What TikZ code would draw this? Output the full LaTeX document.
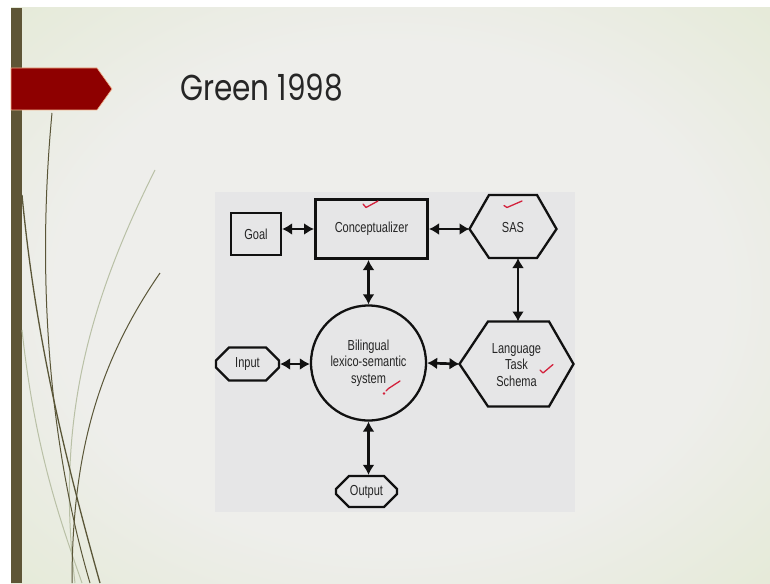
\documentclass[tikz,border=0pt]{standalone}
\usepackage{fontspec}
\newfontfamily\diagfont[FakeStretch=0.76]{Liberation Sans}
\newfontfamily\titlefont{Poppins}
\usetikzlibrary{arrows.meta,shapes.misc}
\definecolor{bgin}{HTML}{EEEEEB}
\definecolor{bgout}{HTML}{DCE6C4}
\definecolor{panel}{HTML}{E6E6E7}
\definecolor{barbrown}{HTML}{5E5536}
\definecolor{banner}{HTML}{8E0000}
\definecolor{bannerrim}{HTML}{F2B38C}
\definecolor{curve}{HTML}{5A5638}
\definecolor{faint}{HTML}{B9C0A6}
\definecolor{tickred}{HTML}{D3213C}
\definecolor{ink}{HTML}{111111}
\definecolor{txtc}{HTML}{252525}
\pgfdeclareradialshading{slidebg}{\pgfpoint{0bp}{0bp}}{color(0bp)=(bgin); color(22bp)=(bgin); color(50bp)=(bgout); color(100bp)=(bgout)}
\begin{document}
\begin{tikzpicture}[x=1pt,y=-1pt,
  txt/.style={font=\diagfont\fontsize{14.5}{16.5}\selectfont, text=txtc, align=center},
  boxnode/.style={txt, draw=ink, line width=2.3pt, fill=panel, inner sep=0pt},
  octnode/.style={txt, chamfered rectangle, chamfered rectangle xsep=6.5pt, chamfered rectangle ysep=6.5pt, draw=ink, line width=2.3pt, fill=panel, inner sep=0pt},
  hexline/.style={draw=ink, line width=2.3pt, line join=miter, fill=panel},
  arr/.style={draw=ink, line width=2.7pt, {Latex[length=10pt,width=12pt]}-{Latex[length=10pt,width=12pt]}},
  tick/.style={draw=tickred, line width=1.3pt, line cap=round, line join=round},
  curvedark/.style={draw=curve, line width=1.3pt},
  curvefaint/.style={draw=faint, line width=1pt}
]
\useasboundingbox (0,0) rectangle (770,583);
% slide background
\fill[white] (0,0) rectangle (770,583);
\shade[shading=slidebg] (11,8) rectangle (770,583);
\fill[barbrown] (11,8) rectangle (22,583);
% decorative curves
\draw[curvefaint] (155,170) .. controls (90,300) and (55,420) .. (75,583);
\draw[curvefaint] (22,330) .. controls (35,450) and (60,520) .. (82,583);
\draw[curvedark] (22,195) .. controls (35,330) and (60,440) .. (100,583);
\draw[curvedark, line width=1pt] (52,113) .. controls (38,260) and (45,430) .. (90,583);
\draw[curvedark, line width=1pt] (160,273) .. controls (100,360) and (72,450) .. (72,583);
% banner
\fill[banner, draw=bannerrim, line width=0.6pt] (11,68) -- (97,68) -- (112,89) -- (97,110) -- (11,110) -- cycle;
% title
\node[anchor=base west, font=\titlefont\fontsize{36}{40}\selectfont, text=black!85, inner sep=0pt] (title) at (180,100) {\scalebox{0.82}[1]{Green 1998}};
% diagram panel
\fill[panel] (215,192) rectangle (575,512);
% nodes
\node[boxnode, minimum width=50pt, minimum height=42pt] (goal) at (256,234) {Goal};
\node[boxnode, line width=3pt, minimum width=112pt, minimum height=59pt] (concept) at (371.5,229) {Conceptualizer};
\coordinate (sasW) at (469.5,229);
\coordinate (sasE) at (556.5,229);
\coordinate (sasS) at (518,258);
\draw[hexline] (sasW) -- (489,195) -- (537,195) -- (sasE) -- (537,258) -- (489,258) -- cycle;
\node[txt] (sas) at (513,228) {SAS};
\coordinate (ltsW) at (459.5,364);
\coordinate (ltsE) at (573.5,364);
\coordinate (ltsN) at (518,321.5);
\draw[hexline] (ltsW) -- (488,321.5) -- (549,321.5) -- (ltsE) -- (549,406.5) -- (488,406.5) -- cycle;
\node[txt] (lts) at (516.5,365) {Language\\Task\\Schema};
\node[boxnode, circle, minimum size=115pt] (bil) at (368.5,363) {Bilingual\\lexico-semantic\\system};
\node[octnode, minimum width=63pt, minimum height=33pt] (input) at (247.5,364) {Input};
\node[octnode, minimum width=61pt, minimum height=31pt] (output) at (366.5,491.5) {Output};
% connectors
\draw[arr] (goal.east |- concept.west) -- (concept.west);
\draw[arr] (concept.east) -- (sasW);
\draw[arr] (bil.north |- concept.south) -- (bil.north);
\draw[arr] (sasS) -- (ltsN);
\draw[arr] (input.east) -- (input.east -| bil.west);
\draw[arr] (bil.east) -- (ltsW);
\draw[arr] (bil.south) -- (bil.south |- output.north);
% red ticks
\draw[tick] (363,204) -- (366,207.5) -- (378,201);
\draw[tick] (504,205.5) -- (507,207.5) -- (522,201);
\draw[tick] (540,370) -- (543,373) -- (553,364.5);
\draw[tick] (386,391) -- (388.5,388.5) -- (400,381);
\fill[tickred] (384,393.5) circle (1.3pt);
\end{tikzpicture}
\end{document}
